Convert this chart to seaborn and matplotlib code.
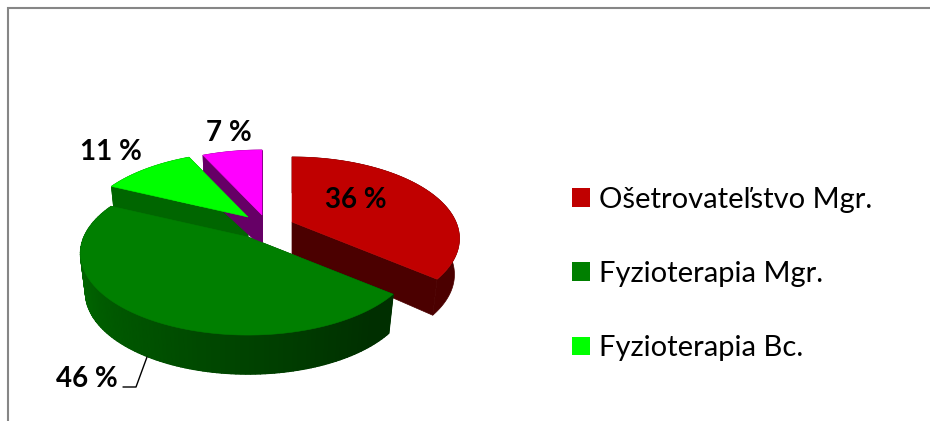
import numpy as np
import matplotlib
matplotlib.use("Agg")
import matplotlib.pyplot as plt
from matplotlib.patches import Patch
from matplotlib.colors import to_rgb
import seaborn as sns

shares = [36, 46, 11, 7]
categories = ["Ošetrovateľstvo Mgr.", "Fyzioterapia Mgr.", "Fyzioterapia Bc."]
top_colors = ["#c00000", "#007f00", "#00ff00", "#ff00ff"]
wall_colors = ["#4b0000", "#004a00", "#006600", "#660066"]

# screen tip of each exploded slice (pixels)
TIPS = [(292, 222), (248, 237), (248, 217), (262, 215)]
RIM_DEPTHS = [36.0, 39.0, 39.0, 39.0]
K, RX, RY = 0.2025, 164.0, 78.2
TIP_DEPTH, SHRINK = 32.0, 0.97

sns.set_theme(style="white")
plt.rcParams["font.family"] = ["Lato", "DejaVu Sans"]

fig = plt.figure(figsize=(9.3, 4.21), dpi=100)
helper = fig.add_axes([0, 0, 0.1, 0.1])
wedges, _ = helper.pie(shares, startangle=90, counterclock=False)
helper.set_visible(False)

ax = fig.add_axes([0, 0, 1, 1])
ax.set_xlim(0, 930)
ax.set_ylim(421, 0)
ax.axis("off")


def project(theta, tip):
    t = np.radians(theta)
    x, y = np.cos(t), np.sin(t)
    p = 1 / (1 + K * y)
    return tip[0] + RX * x * p, tip[1] - RY * y * p


def lower(x, y, tip, depth):
    return tip[0] + (x - tip[0]) * SHRINK, y + depth


def green_shade(theta):
    # theta from 155 (left) round the front to 320 (right)
    f = np.clip((theta - 180) / 130, 0, 1)
    return tuple(a + (b - a) * f for a, b in zip(to_rgb("#006f00"), to_rgb("#002f00")))


for i in [3, 2, 0, 1]:
    w, tip = wedges[i], TIPS[i]
    thetas = np.linspace(w.theta1, w.theta2, 121)
    tx, ty = project(thetas, tip)
    bx, by = lower(tx, ty, tip, RIM_DEPTHS[i])
    base_z = 1 + 0.1 * i

    # cut walls
    for end in (0, -1):
        ax.fill([tip[0], tx[end], bx[end], tip[0]],
                [tip[1], ty[end], by[end], tip[1] + TIP_DEPTH],
                color=wall_colors[i], lw=0.5, zorder=base_z)

    # outer rim as one solid band
    ax.fill(np.r_[tx, bx[::-1]], np.r_[ty, by[::-1]],
            color=wall_colors[i], lw=0.5, zorder=base_z)

    # shading along the arc of the large slice
    if i == 1:
        for j in range(len(thetas) - 1):
            mid = (thetas[j] + thetas[j + 1]) / 2 % 360
            ax.fill([tx[j], tx[j + 1], bx[j + 1], bx[j]],
                    [ty[j], ty[j + 1], by[j + 1], by[j]],
                    color=green_shade(mid), lw=1.0, zorder=base_z + 0.01)

order_z = {3: 2.0, 2: 2.1, 0: 2.2, 1: 2.3}
for i, w in enumerate(wedges):
    tip = TIPS[i]
    thetas = np.linspace(w.theta1, w.theta2, 121)
    tx, ty = project(thetas, tip)
    ax.fill(np.r_[tip[0], tx], np.r_[tip[1], ty], color=top_colors[i], lw=0.4,
            zorder=order_z[i])

# frame
ax.plot([7.5, 7.5, 930], [421, 7.5, 7.5], color="#868686", lw=1.5,
        solid_joinstyle="miter", zorder=0, clip_on=False)

# value labels
label_pos = [(355.5, 200), (87, 379), (111, 152), (229, 133)]
for v, (x, y) in zip(shares, label_pos):
    ax.text(x, y, f"{v} %", ha="center", va="center", fontsize=20,
            fontweight="bold", color="black", zorder=5)

# leader line of the 46 % label
ax.plot([123, 136, 147], [387, 387, 357], color="black", lw=1.0, zorder=4)

handles = [Patch(facecolor=c, edgecolor="none") for c in top_colors[:3]]
ax.legend(handles, categories, loc="upper left",
          bbox_to_anchor=(572 / 930, 1 - 187 / 421), frameon=False,
          fontsize=21, handlelength=0.62, handleheight=0.62, handletextpad=0.3,
          labelspacing=1.65, borderpad=0, borderaxespad=0, labelcolor="black")

fig.savefig("out.png", dpi=100)
